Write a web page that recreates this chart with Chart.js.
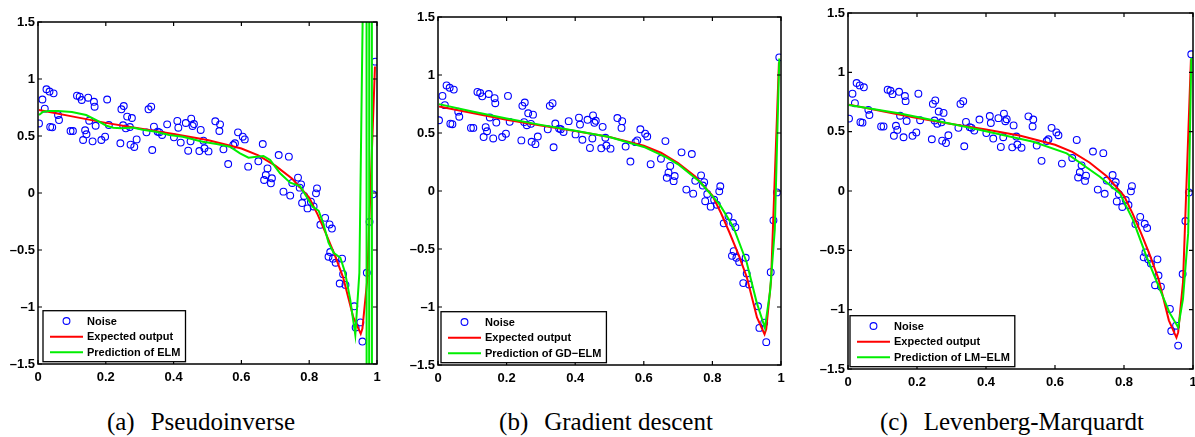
<!DOCTYPE html>
<html>
<head>
<meta charset="utf-8">
<script src="https://cdn.jsdelivr.net/npm/chart.js@4.4.1/dist/chart.umd.min.js"></script>
<style>
body { margin: 0; width: 1195px; height: 437px; overflow: hidden; background: #fff; position: relative; }
canvas { position: absolute; top: 0; }
.cap { position: absolute; top: 409px; width: 400px; text-align: center; font-family: "Liberation Serif", "Times New Roman", serif; font-size: 25px; line-height: 25px; white-space: nowrap; color: #000; }
.cap span { margin-right: 16px; }
</style>
</head>
<body>
<canvas id="chartA" width="400" height="390" style="left:0"></canvas>
<canvas id="chartB" width="400" height="391" style="left:400px"></canvas>
<canvas id="chartC" width="410" height="395" style="left:800px"></canvas>
<div class="cap" style="left:1px"><span>(a)</span>Pseudoinverse</div>
<div class="cap" style="left:406px"><span>(b)</span>Gradient descent</div>
<div class="cap" style="left:812px"><span>(c)</span>Levenberg-Marquardt</div>
<script>
// tick values and labels
var xTicks = [0, 0.2, 0.4, 0.6, 0.8, 1];
var xTickLabels = ['0', '0.2', '0.4', '0.6', '0.8', '1'];
var yTicks = [-1.5, -1, -0.5, 0, 0.5, 1, 1.5];
var yTickLabels = ['–1.5', '–1', '–0.5', '0', '0.5', '1', '1.5'];

// noisy samples (same in the three panels)
var noiseX = [0.003,0.013,0.02,0.025,0.034,0.036,0.042,0.046,0.059,0.062,0.096,0.103,0.115,0.123,0.129,0.133,0.139,0.143,0.148,0.151,
  0.161,0.165,0.167,0.17,0.187,0.198,0.204,0.209,0.243,0.246,0.253,0.251,0.259,0.263,0.271,0.273,0.277,0.284,0.291,0.32,
  0.326,0.334,0.337,0.342,0.353,0.358,0.366,0.381,0.401,0.411,0.414,0.421,0.436,0.443,0.45,0.452,0.456,0.46,0.476,0.48,
  0.488,0.491,0.503,0.523,0.535,0.537,0.547,0.561,0.576,0.581,0.59,0.604,0.61,0.62,0.65,0.663,0.667,0.672,0.677,0.687,
  0.69,0.71,0.724,0.74,0.744,0.75,0.767,0.772,0.776,0.785,0.82,0.823,0.779,0.795,0.805,0.813,0.833,0.847,0.86,0.867,
  0.857,0.862,0.87,0.878,0.897,0.9,0.89,0.907,0.933,0.937,0.951,0.957,0.978,0.97,0.988,0.995];
var noiseY = [0.61,0.82,0.74,0.91,0.89,0.58,0.576,0.874,0.684,0.64,0.544,0.544,0.854,0.845,0.816,0.465,0.55,0.515,0.836,0.634,
  0.453,0.80,0.757,0.59,0.465,0.494,0.82,0.596,0.436,0.734,0.763,0.594,0.567,0.67,0.579,0.424,0.658,0.404,0.47,0.532,
  0.734,0.757,0.377,0.582,0.538,0.532,0.509,0.602,0.488,0.632,0.573,0.442,0.614,0.371,0.453,0.652,0.588,0.605,0.368,0.553,
  0.459,0.392,0.365,0.629,0.544,0.602,0.383,0.254,0.421,0.436,0.532,0.494,0.47,0.231,0.278,0.43,0.114,0.158,0.216,0.085,
  0.129,0.333,0.012,0.319,-0.023,0.088,0.135,0.047,0.076,-0.026,-0.003,0.041,-0.088,-0.135,-0.076,-0.118,-0.279,-0.218,-0.276,-0.312,
  -0.559,-0.518,-0.576,-0.612,-0.576,-0.712,-0.794,-0.806,-0.994,-1.18,-1.135,-1.303,-0.253,-0.7,-0.012,1.152];

// expected output
var expectedX = [0.003,0.1,0.2,0.3,0.4,0.5,0.6,0.65,0.7,0.75,0.8,0.825,0.85,0.875,0.9,0.93,0.952,0.957,0.971,0.994];
var expectedY = [0.728,0.672,0.615,0.565,0.518,0.465,0.39,0.33,0.24,0.125,-0.04,-0.19,-0.36,-0.54,-0.74,-1.09,-1.235,-1.19,-0.77,1.11];

// ELM prediction (pseudoinverse), blows up near x = 1
var elmX = [0.003,0.015,0.033,0.059,0.1,0.142,0.172,0.202,0.222,0.245,0.279,0.309,0.348,0.387,0.427,0.486,0.527,0.566,0.596,0.621,
  0.645,0.665,0.685,0.714,0.744,0.773,0.798,0.81,0.828,0.842,0.857,0.872,0.892,0.906,0.921,0.936,0.948,0.958,0.9655,0.973,
  0.981,0.989];
var elmY = [0.684,0.713,0.72,0.72,0.71,0.684,0.64,0.59,0.572,0.567,0.575,0.555,0.538,0.509,0.494,0.45,0.43,0.406,0.348,0.31,
  0.318,0.325,0.289,0.173,0.091,0.061,-0.061,-0.12,-0.156,-0.273,-0.435,-0.524,-0.568,-0.7,-0.935,-1.244,-0.7,1.6,60,-60,
  60,-60];

// GD-ELM prediction
var gdX = [0.003,0.1,0.2,0.3,0.4,0.5,0.6,0.666,0.7,0.764,0.822,0.861,0.9,0.929,0.953,0.968,0.982,0.995];
var gdY = [0.749,0.685,0.625,0.57,0.52,0.465,0.38,0.29,0.23,0.077,-0.12,-0.31,-0.616,-0.96,-1.18,-0.87,-0.33,1.143];

// LM-ELM prediction
var lmX = [0.002,0.151,0.344,0.537,0.634,0.73,0.788,0.826,0.865,0.904,0.932,0.957,0.971,0.986,0.995];
var lmY = [0.724,0.653,0.54,0.415,0.317,0.12,-0.02,-0.243,-0.55,-0.83,-1.025,-1.15,-0.91,-0.355,1.12];

function pts(xs, ys) {
  return xs.map(function (x, i) { return { x: x, y: ys[i] }; });
}

var tickFont = { family: '"Liberation Sans", Arial, sans-serif', size: 13, weight: 'bold' };

// box around the plot with ticks pointing inward
var axesBox = {
  id: 'axesBox',
  afterDatasetsDraw: function (chart) {
    var ctx = chart.ctx, a = chart.chartArea;
    var xs = chart.scales.x, ys = chart.scales.y;
    ctx.save();
    ctx.strokeStyle = '#000';
    ctx.lineWidth = 1.2;
    ctx.beginPath();
    xTicks.forEach(function (v) {
      var p = xs.getPixelForValue(v);
      ctx.moveTo(p, a.bottom); ctx.lineTo(p, a.bottom - 4);
      ctx.moveTo(p, a.top); ctx.lineTo(p, a.top + 4);
    });
    yTicks.forEach(function (v) {
      var p = ys.getPixelForValue(v);
      ctx.moveTo(a.left, p); ctx.lineTo(a.left + 4, p);
      ctx.moveTo(a.right, p); ctx.lineTo(a.right - 4, p);
    });
    ctx.stroke();
    ctx.lineWidth = 1.5;
    ctx.strokeRect(a.left, a.top, a.right - a.left, a.bottom - a.top);
    ctx.restore();
  }
};

// legend drawn inside the lower left corner
var boxLegend = {
  id: 'boxLegend',
  afterDatasetsDraw: function (chart, args, opts) {
    var ctx = chart.ctx, a = chart.chartArea;
    var sets = chart.data.datasets;
    ctx.save();
    ctx.font = 'bold 11px "Liberation Sans", Arial, sans-serif';
    var tw = 0;
    sets.forEach(function (d) { tw = Math.max(tw, ctx.measureText(d.label).width); });
    var w = 44 + tw + 5, h = 51;
    var x0 = a.left + opts.dx, y0 = a.bottom - opts.dy - h;
    ctx.fillStyle = '#fff';
    ctx.fillRect(x0, y0, w, h);
    ctx.strokeStyle = '#000';
    ctx.lineWidth = 1.3;
    ctx.strokeRect(x0, y0, w, h);
    var rows = [10.3, 26, 41.5];
    sets.forEach(function (d, i) {
      var y = y0 + rows[i];
      if (d.showLine) {
        ctx.strokeStyle = d.borderColor;
        ctx.lineWidth = 2;
        ctx.beginPath(); ctx.moveTo(x0 + 7, y); ctx.lineTo(x0 + 40, y); ctx.stroke();
      } else {
        ctx.strokeStyle = d.borderColor;
        ctx.lineWidth = 1.1;
        ctx.beginPath(); ctx.arc(x0 + 23.5, y, 3.4, 0, Math.PI * 2); ctx.stroke();
      }
      ctx.fillStyle = '#000';
      ctx.textBaseline = 'middle';
      ctx.fillText(d.label, x0 + 44, y + 0.5);
    });
    ctx.restore();
  }
};

function makeChart(id, predX, predY, predLabel, g) {
  var ctx = document.getElementById(id).getContext('2d');
  return new Chart(ctx, {
    type: 'scatter',
    data: {
      datasets: [
        {
          label: 'Noise',
          data: pts(noiseX, noiseY),
          showLine: false,
          borderColor: '#0000ff',
          backgroundColor: 'rgba(0,0,0,0)',
          pointRadius: 3.4,
          borderWidth: 1.1,
          order: 2
        },
        {
          label: 'Expected output',
          data: pts(expectedX, expectedY),
          showLine: true,
          borderColor: '#ff0000',
          borderWidth: 2,
          pointRadius: 0,
          order: 1
        },
        {
          label: predLabel,
          data: pts(predX, predY),
          showLine: true,
          borderColor: '#00ee00',
          borderWidth: 2,
          pointRadius: 0,
          order: 0
        }
      ]
    },
    options: {
      responsive: false,
      animation: false,
      events: [],
      layout: { padding: { top: g.top, right: g.right, left: 0, bottom: 0 } },
      scales: {
        x: {
          type: 'linear', min: 0, max: 1,
          afterBuildTicks: function (s) { s.ticks = xTicks.map(function (v) { return { value: v }; }); },
          afterFit: function (s) { s.height = g.xh; },
          grid: { display: false, drawTicks: false },
          border: { display: false },
          ticks: {
            color: '#000', font: tickFont, padding: 6, maxRotation: 0,
            callback: function (v, i) { return xTickLabels[i]; }
          }
        },
        y: {
          type: 'linear', min: -1.5, max: 1.5,
          afterBuildTicks: function (s) { s.ticks = yTicks.map(function (v) { return { value: v }; }); },
          afterFit: function (s) { s.width = g.yw; },
          grid: { display: false, drawTicks: false },
          border: { display: false },
          ticks: {
            color: '#000', font: tickFont, padding: 3,
            callback: function (v, i) { return yTickLabels[i]; }
          }
        }
      },
      plugins: {
        legend: { display: false },
        tooltip: { enabled: false },
        boxLegend: { dx: g.ldx, dy: g.ldy }
      }
    },
    plugins: [axesBox, boxLegend]
  });
}

makeChart('chartA', elmX, elmY, 'Prediction of ELM', { top: 22, right: 23, xh: 26, yw: 38, ldx: 5, ldy: 2.3 });
makeChart('chartB', gdX, gdY, 'Prediction of GD−ELM', { top: 17, right: 19, xh: 26, yw: 38, ldx: 3, ldy: 2.3 });
makeChart('chartC', lmX, lmY, 'Prediction of LM−ELM', { top: 13, right: 17, xh: 26, yw: 48, ldx: 2, ldy: 2.3 });
</script>
</body>
</html>
